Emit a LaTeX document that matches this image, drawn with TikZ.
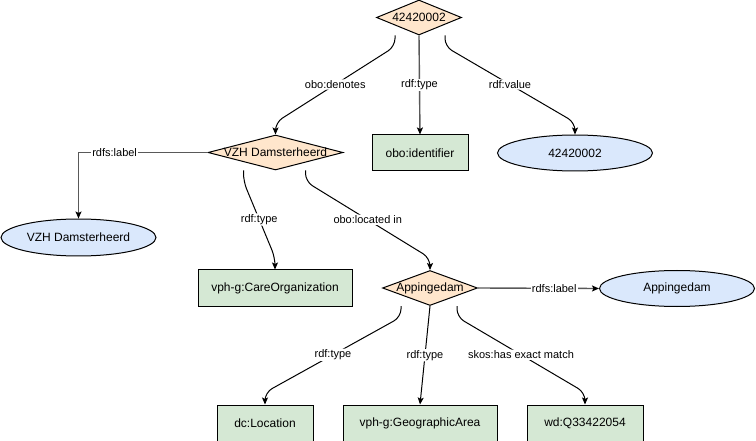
\documentclass[tikz,border=0pt]{standalone}
\usepackage{fontspec}
\setmainfont{Liberation Sans}
\usetikzlibrary{shapes.geometric,arrows.meta,calc}
\definecolor{dorange}{HTML}{FFE6CC}
\definecolor{dgreen}{HTML}{D5E8D4}
\definecolor{dblue}{HTML}{DAE8FC}
\begin{document}
\begin{tikzpicture}[x=1pt,y=-1pt,
  every node/.style={font=\fontsize{12}{14}\selectfont},
  dia/.style={diamond, draw, fill=dorange, inner sep=0pt, line width=1pt, minimum height=35pt},
  cls/.style={rectangle, draw, fill=dgreen, line width=1pt, minimum height=36pt, inner sep=0pt},
  lit/.style={ellipse, draw, fill=dblue, line width=1pt, minimum height=36pt, minimum width=155pt, inner sep=0pt},
  rel/.style={draw, line width=1pt, rounded corners=8pt, -{Stealth[length=7pt,width=6pt,inset=1.5pt]}},
  straight/.style={draw=black!65, line width=1.4pt, -{Stealth[length=7pt,width=6pt,inset=1.5pt,color=black]}},
  lab/.style={fill=white, inner sep=1pt, font=\fontsize{11}{13}\selectfont}
]
\useasboundingbox (0,0) rectangle (756,441);
% nodes
\node[dia, minimum width=85pt, label=center:42420002] (t) at (419,17.5) {};
\node[dia, minimum width=135pt, label=center:VZH Damsterheerd] (v) at (275.5,152.5) {};
\node[cls, minimum width=96pt] (oi) at (420,153) {obo:identifier};
\node[lit] (ev) at (575,153) {42420002};
\node[lit, minimum height=37pt] (vl) at (78.5,237.5) {VZH Damsterheerd};
\node[cls, minimum width=154pt] (co) at (275,288) {vph-g:CareOrganization};
\node[dia, minimum width=95pt, label=center:Appingedam] (a) at (430,288) {};
\node[lit] (al) at (677,288.5) {Appingedam};
\node[cls, minimum width=96pt] (dcl) at (265,423) {dc:Location};
\node[cls, minimum width=154pt] (ga) at (420,423) {vph-g:GeographicArea};
\node[cls, minimum width=116pt] (wd) at (585,423) {wd:Q33422054};
% connectors
\draw[rel] ($(t.south)+(-24,0)$) -- ++(0,11) -- node[lab]{obo:denotes} ($(v.north)+(0,-12)$) -- (v.north);
\draw[straight] (t.south) -- node[lab]{rdf:type} (oi.north);
\draw[rel] ($(t.south)+(26,0)$) -- ++(0,11) -- node[lab]{rdf:value} ($(ev.north)+(0,-12)$) -- (ev.north);
\draw[straight] (v.west) -| node[lab,pos=0.36]{rdfs:label} (vl.north);
\draw[rel] ($(v.south)+(-32,0)$) -- ++(0,11) -- node[lab]{rdf:type} ($(co.north)+(0,-12)$) -- (co.north);
\draw[rel] ($(v.south)+(30,0)$) -- ++(0,11) -- node[lab]{obo:located in} ($(a.north)+(0,-12)$) -- (a.north);
\draw[straight] (a.east) -- node[lab,pos=0.63]{rdfs:label} (al.west);
\draw[rel] ($(a.south)+(-29,0)$) -- ++(0,11) -- node[lab]{rdf:type} ($(dcl.north)+(0,-12)$) -- (dcl.north);
\draw[rel] (a.south) -- node[lab]{rdf:type} (ga.north);
\draw[rel] ($(a.south)+(27,0)$) -- ++(0,11) -- node[lab]{skos:has exact match} ($(wd.north)+(0,-12)$) -- (wd.north);
\end{tikzpicture}
\end{document}
